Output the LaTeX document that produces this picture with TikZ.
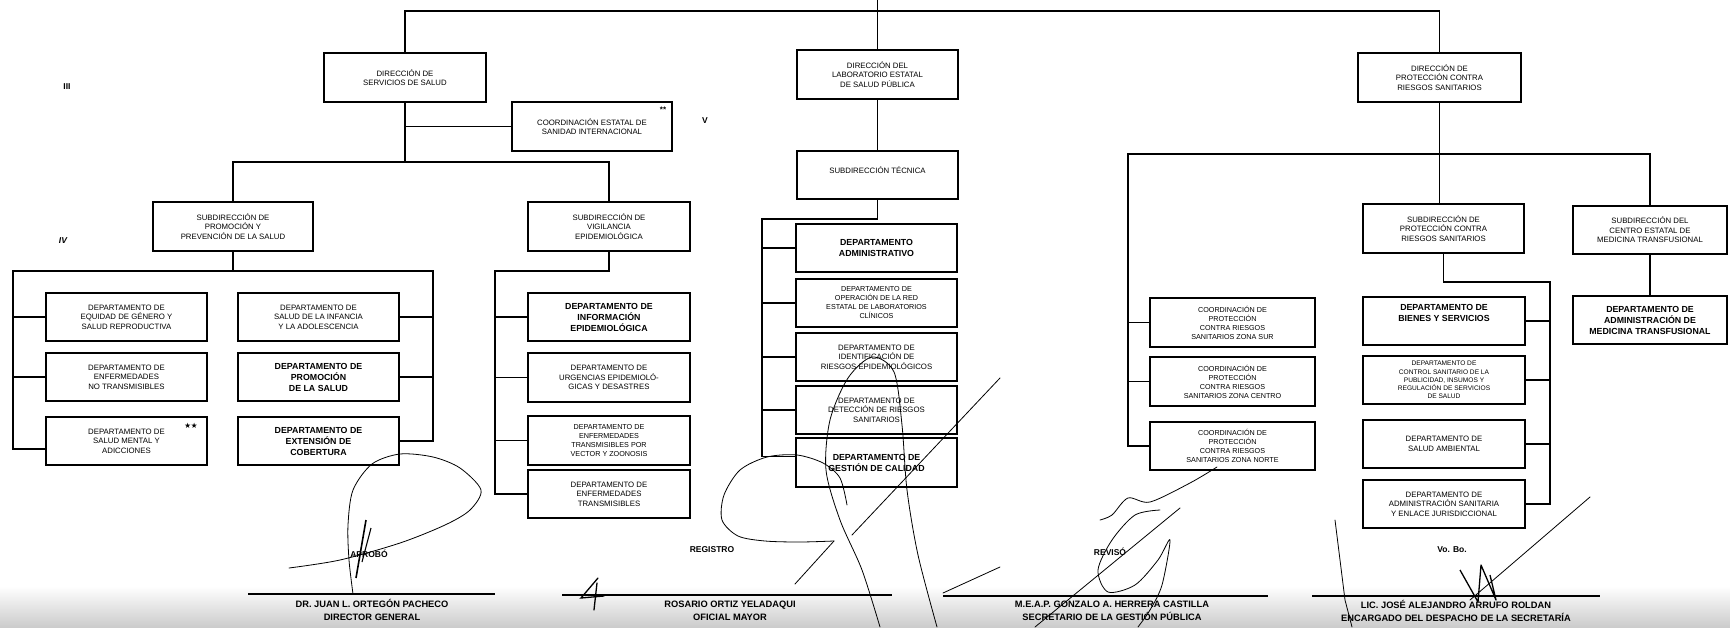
\documentclass[tikz,border=0pt]{standalone}
\usepackage{fontspec}
\setmainfont{Liberation Sans}
\newfontfamily\symfont{DejaVu Sans}
\newcommand{\fsReg}{\fontsize{7.8}{9.6}\selectfont}
\newcommand{\fsFour}{\fontsize{7.2}{9}\selectfont}
\newcommand{\fsFive}{\fontsize{6.6}{8.2}\selectfont}
\newcommand{\fsBold}{\fontsize{8.8}{11}\selectfont\bfseries}
\newcommand{\fsSig}{\fontsize{9.3}{12.5}\selectfont\bfseries}
\newcommand{\fsLbl}{\fontsize{8.5}{9}\selectfont\bfseries}
\newcommand{\obox}[7][]{\node[box,#1,minimum width={(#5-#3)*1pt},minimum height={(#6-#4)*1pt}] (#2) at ({(#3+#5)/2},{(#4+#6)/2}) {#7};}
\begin{document}
\begin{tikzpicture}[x=1pt,y=-1pt,
  box/.style={draw, line width=1.3pt, align=center, inner sep=0pt, font=\fsReg},
  four/.style={font=\fsFour},
  five/.style={font=\fsFive},
  bold/.style={font=\fsBold},
  conn/.style={line width=1.3pt},
  sigline/.style={line width=1.4pt},
  sig/.style={line width=0.8pt, line cap=round, line join=round},
  lbl/.style={font=\fsLbl, inner sep=0pt},
  signame/.style={font=\fsSig, align=center, inner sep=0pt}]
\useasboundingbox (0,0) rectangle (1730,627);
\shade[top color=white, bottom color=black!20] (0,586) rectangle (1730,627);

% top level
\obox{A}{324}{53}{486}{102}{DIRECCIÓN DE\\SERVICIOS DE SALUD}
\obox{B}{797}{50}{958}{99}{DIRECCIÓN DEL\\LABORATORIO ESTATAL\\DE SALUD PÚBLICA}
\obox{C}{1358}{53}{1521}{102}{DIRECCIÓN DE\\PROTECCIÓN CONTRA\\RIESGOS SANITARIOS}
\obox{D}{512}{102}{672}{151}{COORDINACIÓN ESTATAL DE\\SANIDAD INTERNACIONAL}
\obox{E}{153}{202}{313}{251}{SUBDIRECCIÓN DE\\PROMOCIÓN Y\\PREVENCIÓN DE LA SALUD}
\obox{F}{528}{202}{690}{251}{SUBDIRECCIÓN DE\\VIGILANCIA\\EPIDEMIOLÓGICA}
\obox{G}{797}{151}{958}{199}{SUBDIRECCIÓN TÉCNICA\\[1pt]}

% promocion departments
\obox{L1}{46}{293}{207}{341}{DEPARTAMENTO DE\\EQUIDAD DE GÉNERO Y\\SALUD REPRODUCTIVA}
\obox{L2}{46}{353}{207}{401}{DEPARTAMENTO DE\\ENFERMEDADES\\NO TRANSMISIBLES}
\obox{L3}{46}{417}{207}{465}{DEPARTAMENTO DE\\SALUD MENTAL Y\\ADICCIONES}
\obox{R1}{238}{293}{399}{341}{DEPARTAMENTO DE\\SALUD DE LA INFANCIA\\Y LA ADOLESCENCIA}
\obox[bold]{R2}{238}{353}{399}{401}{DEPARTAMENTO DE\\PROMOCIÓN\\DE LA SALUD}
\obox[bold]{R3}{238}{417}{399}{465}{DEPARTAMENTO DE\\EXTENSIÓN DE\\COBERTURA}

% vigilancia departments
\obox[bold]{F1}{528}{293}{690}{341}{DEPARTAMENTO DE\\INFORMACIÓN\\EPIDEMIOLÓGICA}
\obox{F2}{528}{353}{690}{402}{DEPARTAMENTO DE\\URGENCIAS EPIDEMIOLÓ-\\GICAS Y DESASTRES}
\obox[four]{F3}{528}{416}{690}{465}{DEPARTAMENTO DE\\ENFERMEDADES\\TRANSMISIBLES POR\\VECTOR Y ZOONOSIS}
\obox{F4}{528}{470}{690}{518}{DEPARTAMENTO DE\\ENFERMEDADES\\TRANSMISIBLES}

% laboratorio departments
\obox[bold]{G1}{796}{224}{957}{272}{DEPARTAMENTO\\ADMINISTRATIVO}
\obox[four]{G2}{796}{279}{957}{327}{DEPARTAMENTO DE\\OPERACIÓN DE LA RED\\ESTATAL DE LABORATORIOS\\CLÍNICOS}
\obox{G3}{796}{333}{957}{381}{DEPARTAMENTO DE\\IDENTIFICACIÓN DE\\RIESGOS EPIDEMIOLÓGICOS}
\obox{G4}{796}{386}{957}{434}{DEPARTAMENTO DE\\DETECCIÓN DE RIESGOS\\SANITARIOS}
\obox[bold]{G5}{796}{438}{957}{487}{DEPARTAMENTO DE\\GESTIÓN DE CALIDAD}

% proteccion
\obox[four]{H1}{1150}{298}{1315}{347}{COORDINACIÓN DE\\PROTECCIÓN\\CONTRA RIESGOS\\SANITARIOS ZONA SUR}
\obox[four]{H2}{1150}{357}{1315}{406}{COORDINACIÓN DE\\PROTECCIÓN\\CONTRA RIESGOS\\SANITARIOS ZONA CENTRO}
\obox[four]{H3}{1150}{422}{1315}{470}{COORDINACIÓN DE\\PROTECCIÓN\\CONTRA RIESGOS\\SANITARIOS ZONA NORTE}
\obox{I}{1363}{204}{1524}{253}{SUBDIRECCIÓN DE\\PROTECCIÓN CONTRA\\RIESGOS SANITARIOS}
\obox{J}{1573}{206}{1727}{254}{SUBDIRECCIÓN DEL\\CENTRO ESTATAL DE\\MEDICINA TRANSFUSIONAL}
\obox[bold]{I1}{1363}{297}{1525}{345}{DEPARTAMENTO DE\\BIENES Y SERVICIOS\\[6pt]}
\obox[five]{I2}{1363}{356}{1525}{404}{DEPARTAMENTO DE\\CONTROL SANITARIO DE LA\\PUBLICIDAD, INSUMOS Y\\REGULACIÓN DE SERVICIOS\\DE SALUD}
\obox{I3}{1363}{420}{1525}{468}{DEPARTAMENTO DE\\SALUD AMBIENTAL}
\obox{I4}{1363}{480}{1525}{528}{DEPARTAMENTO DE\\ADMINISTRACIÓN SANITARIA\\Y ENLACE JURISDICCIONAL}
\obox[bold]{J1}{1573}{296}{1727}{344}{DEPARTAMENTO DE\\ADMINISTRACIÓN DE\\MEDICINA TRANSFUSIONAL}

% marks
\node[lbl] (m3) at (67,87) {III};
\node[lbl] (m4) at (63,241) {\itshape IV};
\node[lbl] (m5) at (705,121) {V};
\node[font=\bfseries\fontsize{8}{8}\selectfont, inner sep=0pt] (dstar) at (663,110) {**};
\node[font=\symfont\fontsize{7.5}{8}\selectfont, inner sep=0pt] (lstar) at (191,426) {★★};

% connectors: top
\draw[conn] (B.north) -- (B.north |- 0,0);
\draw[conn] (A.north) |- (C.north |- 0,11) -- (C.north);
\draw[conn] (A.south) -- (A.south |- 0,162);
\draw[conn] (A.south |- D.west) -- (D.west);
\draw[conn] (E.north) |- (F.north |- 0,162) -- (F.north);
% promocion
\coordinate (eL) at (13,271);
\coordinate (eR) at (433,271);
\draw[conn] (E.south) -- (E.south |- eL);
\draw[conn] ([yshift=-8pt]L3.west) -| (eL) -- (eR) |- (R3.east);
\draw[conn] (eL |- L1.west) -- (L1.west);
\draw[conn] (eL |- L2.west) -- (L2.west);
\draw[conn] (eR |- R1.east) -- (R1.east);
\draw[conn] (eR |- R2.east) -- (R2.east);
% vigilancia
\coordinate (fb) at (495,271);
\draw[conn] (F.south) |- (fb) |- (F4.west);
\foreach \n in {F1,F2,F3} \draw[conn] (fb |- \n.west) -- (\n.west);
% laboratorio
\draw[conn] (B.south) -- (G.north);
\coordinate (gb) at (762,219);
\draw[conn] (G.south) |- (gb) |- ([yshift=6pt]G5.west);
\foreach \n in {G1,G2,G3,G4} \draw[conn] (gb |- \n.west) -- (\n.west);
% proteccion
\coordinate (hb) at (1128,154);
\draw[conn] (C.south) -- (C.south |- hb);
\draw[conn] (H3.west) -| (hb) -| (J.north);
\draw[conn] (C.south |- hb) -- (C.south |- I.north);
\draw[conn] (hb |- H1.west) -- (H1.west);
\draw[conn] (hb |- H2.west) -- (H2.west);
\coordinate (ib) at (1550,282);
\draw[conn] (I.south) |- (ib) |- (I4.east);
\foreach \n in {I1,I2,I3} \draw[conn] (ib |- \n.east) -- (\n.east);
\draw[conn] (J.south) -- (J1.north);

% signature block
\draw[sigline] (248,594) -- (495,594);
\draw[sigline] (562,595) -- (892,595);
\draw[sigline] (943,596) -- (1268,596);
\draw[sigline] (1312,596) -- (1600,596);
\node[signame] (n1) at (372,610) {DR. JUAN L. ORTEGÓN PACHECO\\DIRECTOR GENERAL};
\node[signame] (n2) at (730,611) {ROSARIO ORTIZ YELADAQUI\\OFICIAL MAYOR};
\node[signame] (n3) at (1112,611) {M.E.A.P. GONZALO A. HERRERA CASTILLA\\SECRETARIO DE LA GESTIÓN PÚBLICA};
\node[signame] (n4) at (1456,611) {LIC. JOSÉ ALEJANDRO ARRUFO ROLDAN\\ENCARGADO DEL DESPACHO DE LA SECRETARÍA};
\node[lbl] (t1) at (369,554) {APROBÓ};
\node[lbl] (t2) at (712,550) {REGISTRO};
\node[lbl] (t3) at (1110,552) {REVISÓ};
\node[lbl] (t4) at (1452,550) {Vo. Bo.};

% handwritten signatures (approximate)
\draw[sig] plot[smooth] coordinates {(353,594) (349,560) (348,525) (353,490) (372,464) (400,454) (433,457) (460,468) (481,490) (470,510) (445,525) (400,543) (340,560) (289,568)};
\draw[line width=1.6pt] (356,578) -- (366,520);
\draw[line width=1.1pt] (362,562) -- (371,528);
\draw[sig] plot[smooth] coordinates {(847,505) (840,478) (823,463) (797,455) (767,457) (740,470) (724,495) (722,520) (738,536) (765,541) (800,542) (834,541)};
\draw[sig] (834,541) -- (795,584);
\draw[sig] plot[smooth] coordinates {(880,627) (862,570) (840,520) (826,470) (830,420) (848,378) (872,357) (894,372) (902,425) (907,490) (918,555) (937,627)};
\draw[sig] (1000,378) -- (852,535);
\draw[line width=1.3pt, line cap=round] (598,578) -- (581,598) -- (604,596);
\draw[line width=1.3pt, line cap=round] (597,583) -- (594,610);
\draw[sig] plot[smooth] coordinates {(1217,467) (1190,483) (1150,502) (1128,498) (1112,515) (1100,520)};
\draw[sig] plot[smooth] coordinates {(1160,510) (1135,515) (1112,540) (1098,570) (1108,592) (1135,585) (1158,560) (1170,540) (1162,585) (1150,610) (1138,627)};
\draw[sig] (943,593) -- (1000,567);
\draw[sig] (1035,627) -- (1180,508);
\draw[sig] (1335,520) -- (1345,600) -- (1352,627);
\draw[line width=1.3pt, line join=round] (1460,570) -- (1478,602) -- (1481,565) -- (1496,600) -- (1490,575);
\draw[sig] (1470,600) -- (1590,497);
\end{tikzpicture}
\end{document}
